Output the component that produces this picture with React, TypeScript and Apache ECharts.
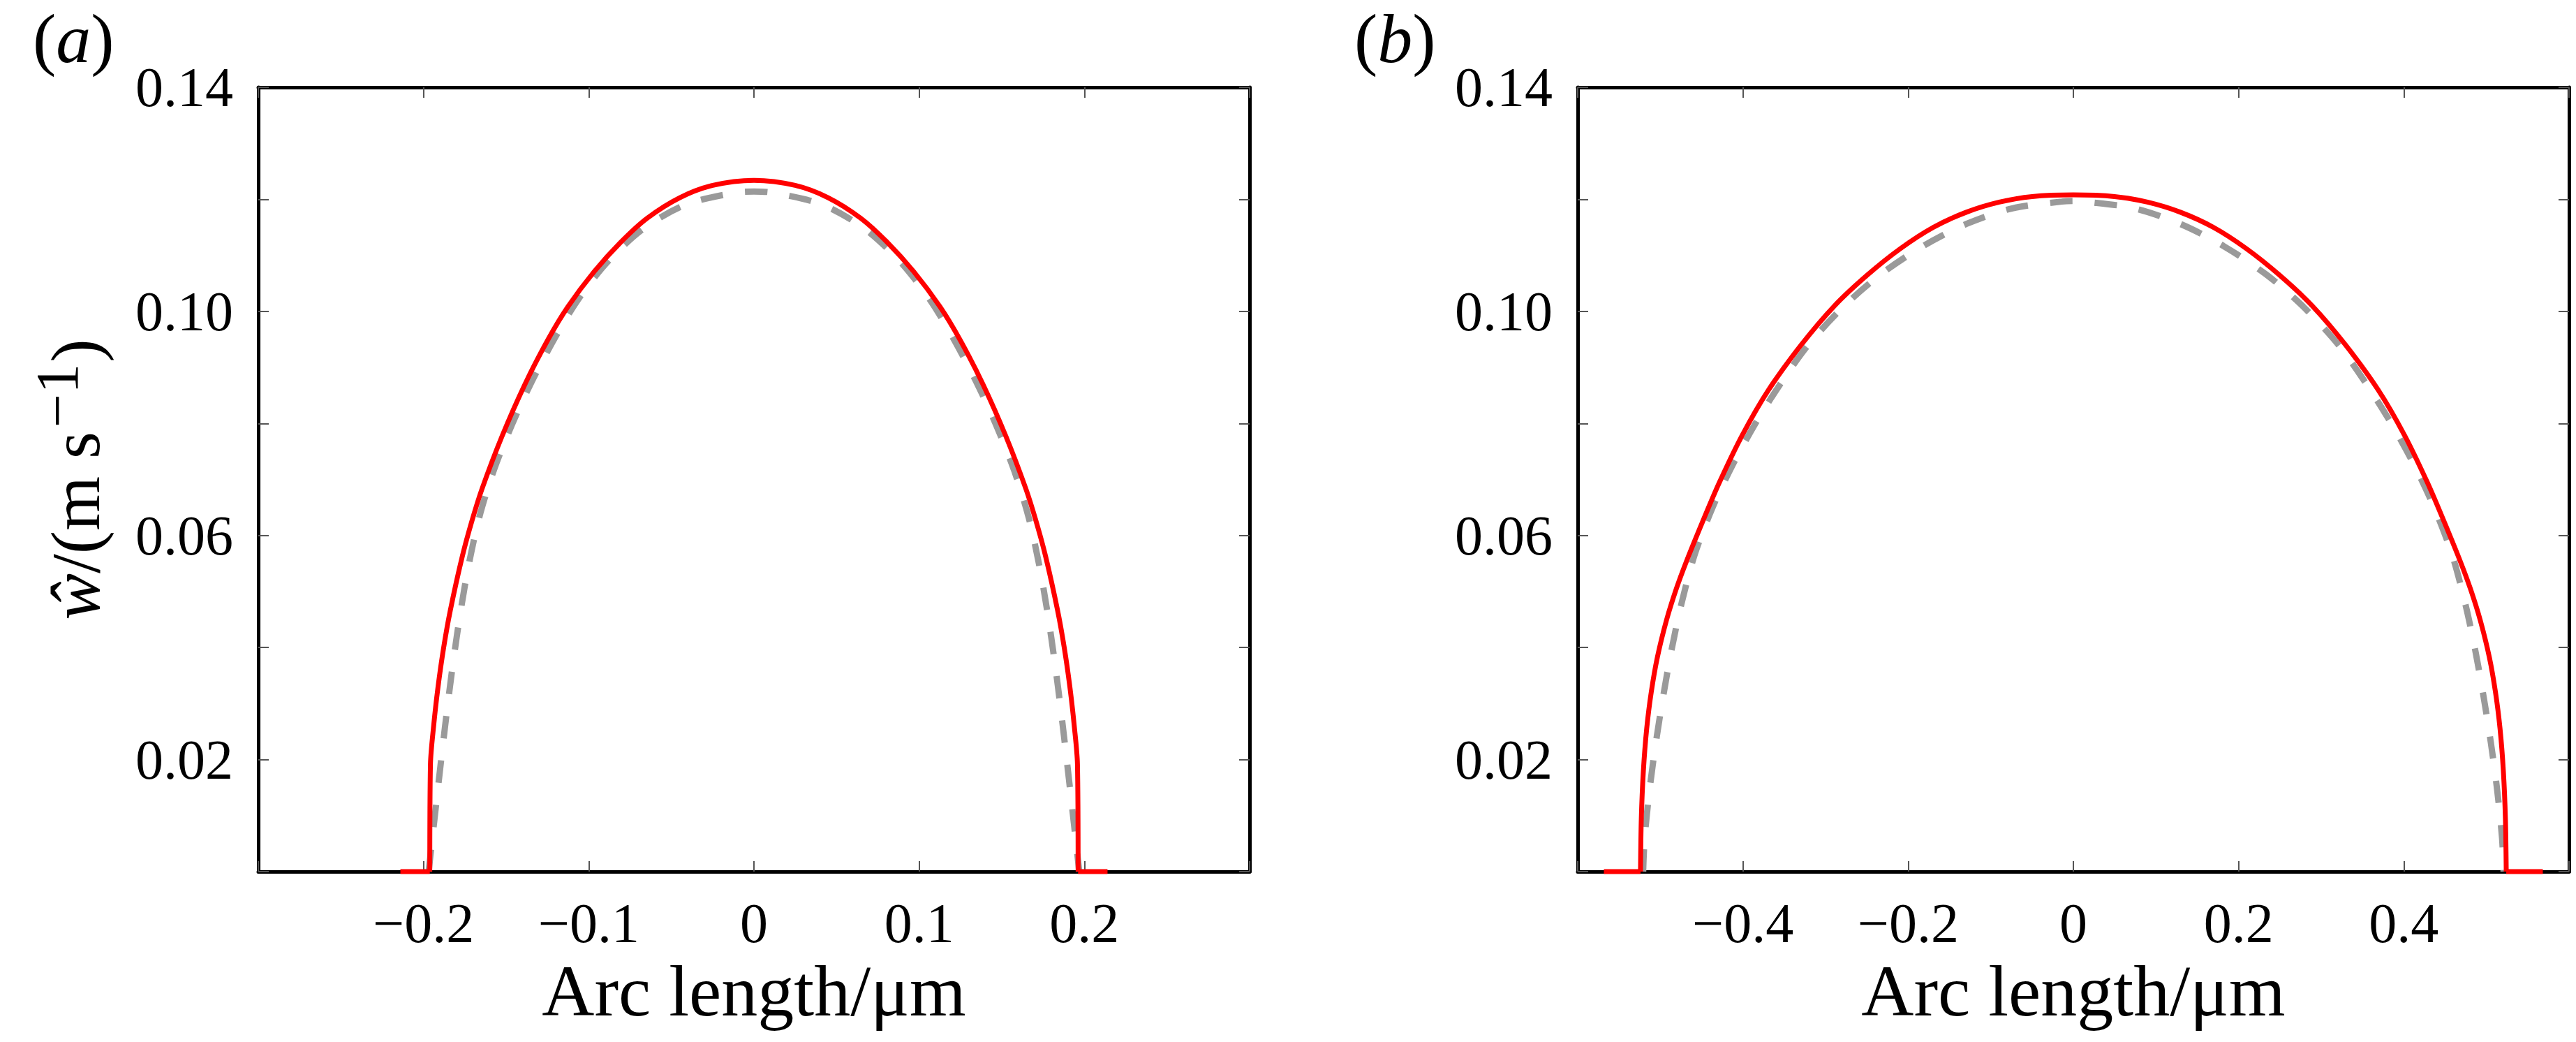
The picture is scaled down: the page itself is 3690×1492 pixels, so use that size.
import React, { useEffect, useRef } from 'react';
import * as echarts from 'echarts';

const FONT = '"Liberation Serif", "Times New Roman", Times, serif';

// ---------- Panel (a) ----------
const aRedX = [-0.1962, -0.1958, -0.1938, -0.1912, -0.1878, -0.1838, -0.1765, -0.1705, -0.1645, -0.1525, -0.1386, -0.1246, -0.1127, -0.0967, -0.0808, -0.0648, -0.0449, -0.0249, 0, 0.0249, 0.0449, 0.0648, 0.0808, 0.0967, 0.1127, 0.1246, 0.1386, 0.1525, 0.1645, 0.1705, 0.1765, 0.1838, 0.1878, 0.1912, 0.1938, 0.1958, 0.1962];
const aRedY = [0, 0.0192, 0.0262, 0.0330, 0.0400, 0.0466, 0.0563, 0.0628, 0.0684, 0.0777, 0.0870, 0.0950, 0.1008, 0.1071, 0.1123, 0.1166, 0.1203, 0.1225, 0.1234, 0.1225, 0.1203, 0.1166, 0.1123, 0.1071, 0.1008, 0.0950, 0.0870, 0.0777, 0.0684, 0.0628, 0.0563, 0.0466, 0.0400, 0.0330, 0.0262, 0.0192, 0];
const aRedFeetX = [[-0.214, -0.1962], [0.1962, 0.214]];
const aGreyX = [-0.1969, -0.1924, -0.1891, -0.1857, -0.1820, -0.1778, -0.1728, -0.1662, -0.1575, -0.1466, -0.1346, -0.1206, -0.1067, -0.0887, -0.0668, -0.0409, -0.0110, 0, 0.0110, 0.0409, 0.0668, 0.0887, 0.1067, 0.1206, 0.1346, 0.1466, 0.1575, 0.1662, 0.1728, 0.1778, 0.1820, 0.1857, 0.1891, 0.1924, 0.1969];
const aGreyY = [0, 0.0119, 0.0205, 0.0290, 0.0375, 0.0460, 0.0545, 0.0633, 0.0716, 0.0797, 0.0874, 0.0952, 0.1020, 0.1088, 0.1148, 0.1191, 0.1212, 0.1214, 0.1212, 0.1191, 0.1148, 0.1088, 0.1020, 0.0952, 0.0874, 0.0797, 0.0716, 0.0633, 0.0545, 0.0460, 0.0375, 0.0290, 0.0205, 0.0119, 0];

// ---------- Panel (b) ----------
const bRedX = [-0.5240, -0.5230, -0.5205, -0.5165, -0.5110, -0.5035, -0.4925, -0.4806, -0.4686, -0.4487, -0.4287, -0.4008, -0.3689, -0.3290, -0.2891, -0.2493, -0.2094, -0.1695, -0.1296, -0.0897, -0.0499, 0, 0.0499, 0.0897, 0.1296, 0.1695, 0.2094, 0.2493, 0.2891, 0.3290, 0.3689, 0.4008, 0.4287, 0.4487, 0.4686, 0.4806, 0.4925, 0.5035, 0.5110, 0.5165, 0.5205, 0.5230, 0.5240];
const bRedY = [0, 0.0095, 0.0180, 0.0255, 0.0320, 0.0383, 0.0449, 0.0505, 0.0553, 0.0625, 0.0694, 0.0779, 0.0860, 0.0941, 0.1010, 0.1065, 0.1112, 0.1150, 0.1177, 0.1195, 0.1205, 0.1208, 0.1205, 0.1195, 0.1177, 0.1150, 0.1112, 0.1065, 0.1010, 0.0941, 0.0860, 0.0779, 0.0694, 0.0625, 0.0553, 0.0505, 0.0449, 0.0383, 0.0320, 0.0255, 0.0180, 0.0095, 0];
const bRedFeetX = [[-0.5683, -0.5240], [0.5240, 0.5683]];
const bGreyX = [-0.5208, -0.5190, -0.5130, -0.5055, -0.4965, -0.4865, -0.4746, -0.4586, -0.4367, -0.4128, -0.3848, -0.3549, -0.3210, -0.2772, -0.2333, -0.1815, -0.1296, -0.0738, -0.0140, 0, 0.0140, 0.0738, 0.1296, 0.1815, 0.2333, 0.2772, 0.3210, 0.3549, 0.3848, 0.4128, 0.4367, 0.4586, 0.4746, 0.4865, 0.4965, 0.5055, 0.5130, 0.5190, 0.5208];
const bGreyY = [0, 0.0059, 0.0146, 0.0229, 0.0313, 0.0395, 0.0477, 0.0565, 0.0650, 0.0725, 0.0800, 0.0870, 0.0940, 0.1010, 0.1066, 0.1117, 0.1156, 0.1184, 0.1196, 0.1197, 0.1196, 0.1184, 0.1156, 0.1117, 0.1066, 0.1010, 0.0940, 0.0870, 0.0800, 0.0725, 0.0650, 0.0565, 0.0477, 0.0395, 0.0313, 0.0229, 0.0146, 0.0059, 0];

// ---------- Ticks ----------
const aXTicks = [-0.2, -0.1, 0, 0.1, 0.2];
const aXTickLabels = ['\u22120.2', '\u22120.1', '0', '0.1', '0.2'];
const bXTicks = [-0.4, -0.2, 0, 0.2, 0.4];
const bXTickLabels = ['\u22120.4', '\u22120.2', '0', '0.2', '0.4'];
const yTicks = [0.02, 0.06, 0.1, 0.14];
const yTickLabels = ['0.02', '0.06', '0.10', '0.14'];

const panelLabels = ['a', 'b'];
const xTitle = 'Arc length/\u03bcm';

const zip = (xs: number[], ys: number[]) => xs.map((x, i) => [x, ys[i]]);
const lookup = (ticks: number[], labels: string[]) => (v: number) => {
  const i = ticks.findIndex((t) => Math.abs(t - v) < 1e-9);
  return i >= 0 ? labels[i] : '';
};

export default function App() {
  const ref = useRef<HTMLDivElement>(null);

  useEffect(() => {
    if (!ref.current) return;
    const chart = echarts.init(ref.current, undefined, { renderer: 'svg' });

    const lineStyle = { color: '#000', width: 5 };
    const tick = { show: true, inside: true, length: 15, lineStyle: { color: '#555', width: 2 } };
    const labelStyle = { fontFamily: FONT, fontSize: 80, color: '#000' };

    const grids = [
      { left: 370, top: 125, width: 1420, height: 1123 },
      { left: 2260, top: 125, width: 1420, height: 1123 },
    ];
    const xRanges = [
      { min: -0.3, max: 0.3, interval: 0.1, ticks: aXTicks, labels: aXTickLabels },
      { min: -0.6, max: 0.6, interval: 0.2, ticks: bXTicks, labels: bXTickLabels },
    ];

    const xAxis: any[] = [];
    const yAxis: any[] = [];
    xRanges.forEach((r, gi) => {
      xAxis.push({
        type: 'value', gridIndex: gi, position: 'bottom',
        min: r.min, max: r.max, interval: r.interval,
        axisLine: { show: true, onZero: false, lineStyle },
        axisTick: tick,
        splitLine: { show: false },
        axisLabel: { ...labelStyle, margin: 34, formatter: lookup(r.ticks, r.labels) },
        name: xTitle, nameLocation: 'middle', nameGap: 106,
        nameTextStyle: { fontFamily: FONT, fontSize: 104, color: '#000' },
      });
      xAxis.push({
        type: 'value', gridIndex: gi, position: 'top',
        min: r.min, max: r.max, interval: r.interval,
        axisLine: { show: true, onZero: false, lineStyle },
        axisTick: tick, splitLine: { show: false }, axisLabel: { show: false },
      });
      yAxis.push({
        type: 'value', gridIndex: gi, position: 'left',
        min: 0, max: 0.14, interval: 0.02,
        axisLine: { show: true, onZero: false, lineStyle },
        axisTick: tick, splitLine: { show: false },
        axisLabel: { ...labelStyle, margin: 36, formatter: lookup(yTicks, yTickLabels) },
        ...(gi === 0
          ? {
              name: '{i|\u0175}{n|/(m s}{sup|\u22121}{n|)}',
              nameLocation: 'middle', nameRotate: 90, nameGap: 212,
              nameTextStyle: {
                fontFamily: FONT, fontSize: 100, color: '#000',
                rich: {
                  n: { fontFamily: FONT, fontSize: 100, lineHeight: 100, color: '#000' },
                  i: { fontFamily: FONT, fontSize: 100, lineHeight: 100, fontStyle: 'italic', color: '#000' },
                  sup: { fontFamily: FONT, fontSize: 86, lineHeight: 86, color: '#000', padding: [0, 2, 52, 6] },
                },
              },
            }
          : {}),
      });
      yAxis.push({
        type: 'value', gridIndex: gi, position: 'right',
        min: 0, max: 0.14, interval: 0.02,
        axisLine: { show: true, onZero: false, lineStyle },
        axisTick: tick, splitLine: { show: false }, axisLabel: { show: false },
      });
    });

    const greyStyle = { color: '#9a9a9a', width: 9, type: [32, 32] as any };
    const redStyle = { color: '#ff0000', width: 7 };
    const mk = (name: string, xi: number, yi: number, data: number[][], ls: any, z: number, smooth: number) => ({
      name, type: 'line', xAxisIndex: xi, yAxisIndex: yi, data,
      showSymbol: false, symbol: 'none', clip: false, lineStyle: ls, z, smooth,
      emphasis: { disabled: true },
    });
    const feet = (name: string, xi: number, feetX: number[][]) =>
      feetX.map((f, k) => mk(name + '-foot' + k, xi, xi, [[f[0], 0], [f[1], 0]], redStyle, 3, 0));

    chart.setOption({
      animation: false,
      backgroundColor: '#ffffff',
      title: panelLabels.map((p, i) => ({
        text: '({i|' + p + '})',
        left: i === 0 ? 42 : 1935,
        top: 0,
        textStyle: {
          fontFamily: FONT, fontSize: 100, fontWeight: 'normal', color: '#000',
          rich: { i: { fontFamily: FONT, fontSize: 100, fontStyle: 'italic', color: '#000' } },
        },
      })),
      grid: grids,
      xAxis,
      yAxis,
      series: [
        mk('a-grey', 0, 0, zip(aGreyX, aGreyY), greyStyle, 2, 0.3),
        mk('a-red', 0, 0, zip(aRedX, aRedY), redStyle, 3, 0.3),
        ...feet('a-red', 0, aRedFeetX),
        mk('b-grey', 2, 2, zip(bGreyX, bGreyY), greyStyle, 2, 0.3),
        mk('b-red', 2, 2, zip(bRedX, bRedY), redStyle, 3, 0.3),
        ...feet('b-red', 2, bRedFeetX),
      ],
    });

    return () => chart.dispose();
  }, []);

  return (
    <div
      ref={ref}
      style={{ position: 'fixed', left: 0, top: 0, width: 3690, height: 1492, background: '#fff' }}
    />
  );
}
